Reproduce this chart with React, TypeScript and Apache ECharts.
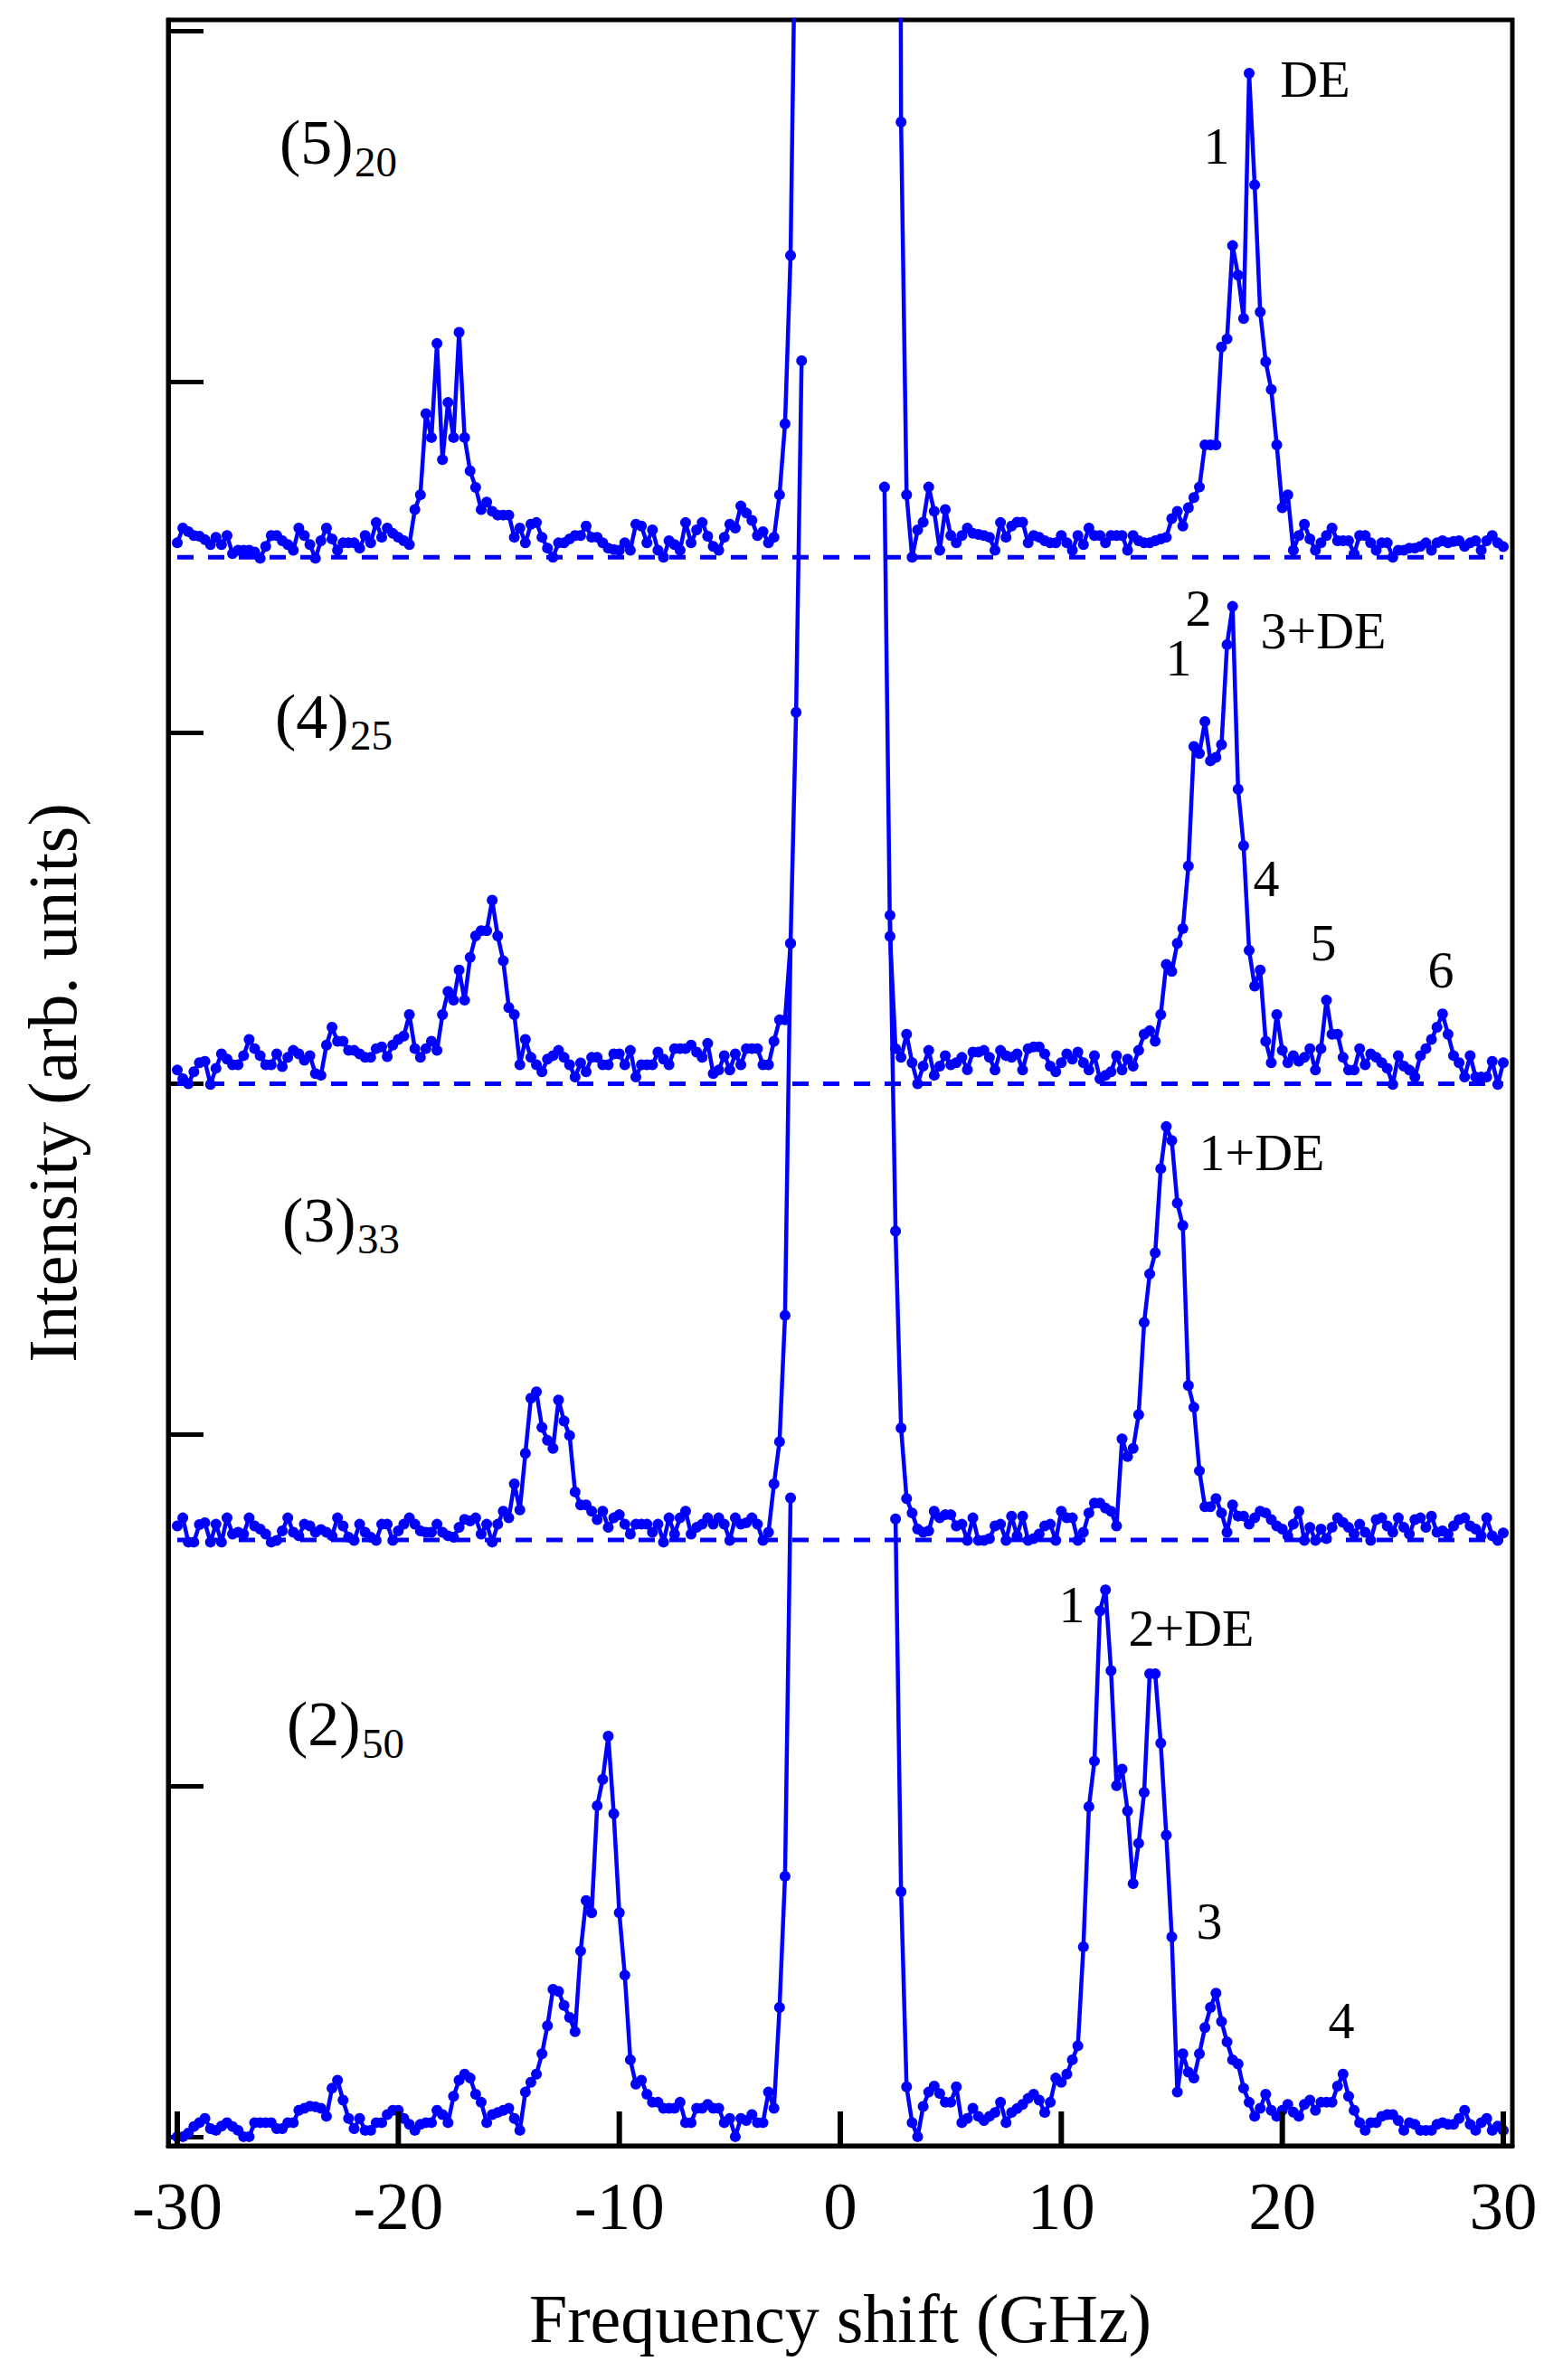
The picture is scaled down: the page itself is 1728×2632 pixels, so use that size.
import React, { useEffect, useRef } from 'react';
import * as echarts from 'echarts';

// Frequency grid of the spectra (GHz): first channel and channel step
const X_START = -30;
const X_STEP = 0.25;
const N = null;

// Spectrum (5)20 — offset baseline 4.5
const trace5 = [
  4.541, 4.583, 4.573, 4.562, 4.56, 4.55, 4.536, 4.557, 4.536, 4.562,
  4.51, 4.52, 4.52, 4.52, 4.515, 4.497, 4.531, 4.562, 4.562, 4.547,
  4.536, 4.52, 4.583, 4.562, 4.536, 4.497, 4.547, 4.583, 4.552, 4.52,
  4.541, 4.541, 4.541, 4.526, 4.562, 4.541, 4.599, 4.557, 4.583, 4.568,
  4.557, 4.547, 4.536, 4.636, 4.678, 4.909, 4.841, 5.109, 4.778, 4.941,
  4.841, 5.141, 4.841, 4.746, 4.699, 4.636, 4.657, 4.631, 4.62, 4.62,
  4.62, 4.557, 4.583, 4.541, 4.594, 4.599, 4.557, 4.526, 4.5, 4.541,
  4.541, 4.552, 4.562, 4.562, 4.589, 4.557, 4.557, 4.541, 4.526, 4.522,
  4.52, 4.541, 4.52, 4.594, 4.589, 4.541, 4.578, 4.52, 4.5, 4.547,
  4.536, 4.52, 4.599, 4.541, 4.578, 4.599, 4.56, 4.531, 4.52, 4.557,
  4.594, 4.583, 4.646, 4.626, 4.605, 4.562, 4.573, 4.541, 4.557, 4.678,
  4.88, 5.36, 6.5,
  N, N, N, N, N, N, N,
  N, N, N, N, N, N, N, N, N, N,
  12, 5.74, 4.678, 4.5, 4.578, 4.6, 4.7, 4.631, 4.52, 4.636,
  4.562, 4.541, 4.562, 4.583, 4.568, 4.565, 4.562, 4.557, 4.52, 4.599,
  4.557, 4.589, 4.6, 4.6, 4.541, 4.562, 4.557, 4.547, 4.541, 4.541,
  4.562, 4.541, 4.52, 4.562, 4.536, 4.583, 4.562, 4.562, 4.541, 4.562,
  4.562, 4.562, 4.52, 4.562, 4.547, 4.541, 4.541, 4.547, 4.552, 4.557,
  4.61, 4.631, 4.589, 4.641, 4.67, 4.7, 4.82, 4.82, 4.82, 5.099,
  5.122, 5.388, 5.304, 5.18, 5.879, 5.561, 5.199, 5.057, 4.978, 4.82,
  4.641, 4.678, 4.52, 4.562, 4.594, 4.552, 4.52, 4.541, 4.562, 4.583,
  4.547, 4.547, 4.547, 4.51, 4.562, 4.562, 4.541, 4.52, 4.541, 4.541,
  4.5, 4.52, 4.52, 4.526, 4.526, 4.531, 4.541, 4.52, 4.541, 4.547,
  4.541, 4.545, 4.547, 4.531, 4.541, 4.547, 4.52, 4.547, 4.562, 4.541, 4.53,
];

// Spectrum (4)25 — offset baseline 3.0
const trace4 = [
  3.039, 3.014, 3.0, 3.034, 3.06, 3.064, 2.998, 3.044, 3.085, 3.07,
  3.054, 3.054, 3.08, 3.126, 3.1, 3.08, 3.054, 3.054, 3.085, 3.049,
  3.075, 3.095, 3.085, 3.067, 3.08, 3.029, 3.024, 3.11, 3.161, 3.121,
  3.121, 3.095, 3.095, 3.085, 3.075, 3.075, 3.1, 3.105, 3.077, 3.11,
  3.126, 3.136, 3.197, 3.1, 3.075, 3.1, 3.121, 3.095, 3.197, 3.263,
  3.238, 3.324, 3.238, 3.36, 3.421, 3.436, 3.436, 3.523, 3.421, 3.35,
  3.217, 3.197, 3.054, 3.126, 3.075, 3.054, 3.034, 3.07, 3.08, 3.095,
  3.075, 3.054, 3.019, 3.059, 3.034, 3.075, 3.075, 3.054, 3.054, 3.085,
  3.085, 3.054, 3.095, 3.019, 3.054, 3.054, 3.054, 3.09, 3.07, 3.054,
  3.1, 3.1, 3.1, 3.11, 3.09, 3.075, 3.115, 3.029, 3.039, 3.08,
  3.039, 3.085, 3.054, 3.1, 3.1, 3.1, 3.054, 3.054, 3.121, 3.182,
  3.182, 3.4, 4.058, 5.06,
  N, N, N, N, N, N,
  N, N, N, N, N, N, N, N,
  4.7, 3.42, 3.1, 3.075, 3.141, 3.06, 3.0, 3.05, 3.095, 3.024, 3.05, 3.08,
  3.054, 3.06, 3.075, 3.04, 3.09, 3.09, 3.095, 3.075, 3.039, 3.095,
  3.08, 3.075, 3.085, 3.039, 3.1, 3.105, 3.105, 3.085, 3.05, 3.034,
  3.06, 3.085, 3.07, 3.09, 3.06, 3.039, 3.08, 3.014, 3.024, 3.034,
  3.08, 3.039, 3.07, 3.05, 3.095, 3.141, 3.151, 3.121, 3.197, 3.34,
  3.32, 3.4, 3.442, 3.62, 3.961, 3.941, 4.032, 3.92, 3.93, 3.966,
  4.251, 4.36, 3.839, 3.678, 3.38, 3.278, 3.324, 3.121, 3.06, 3.197,
  3.095, 3.06, 3.08, 3.064, 3.075, 3.1, 3.039, 3.1, 3.238, 3.141,
  3.141, 3.075, 3.039, 3.039, 3.1, 3.054, 3.085, 3.075, 3.06, 3.044,
  2.998, 3.08, 3.05, 3.039, 3.019, 3.08, 3.1, 3.126, 3.161, 3.199,
  3.141, 3.08, 3.06, 3.019, 3.08, 3.019, 3.019, 3.019, 3.064, 2.998, 3.06,
];

// Spectrum (3)33 — offset baseline 1.7
const trace3 = [
  1.74, 1.763, 1.694, 1.694, 1.744, 1.749, 1.694, 1.745, 1.694, 1.763,
  1.717, 1.722, 1.717, 1.763, 1.74, 1.731, 1.717, 1.694, 1.699, 1.726,
  1.763, 1.722, 1.712, 1.745, 1.74, 1.722, 1.73, 1.722, 1.712, 1.763,
  1.74, 1.708, 1.699, 1.745, 1.722, 1.708, 1.699, 1.745, 1.745, 1.699,
  1.726, 1.745, 1.763, 1.745, 1.726, 1.722, 1.722, 1.745, 1.722, 1.712,
  1.708, 1.736, 1.759, 1.754, 1.763, 1.717, 1.745, 1.694, 1.745, 1.782,
  1.763, 1.86, 1.786, 1.947, 2.104, 2.122, 2.021, 1.984, 1.961, 2.099,
  2.039, 1.998, 1.837, 1.8, 1.8, 1.782, 1.758, 1.782, 1.736, 1.763,
  1.772, 1.745, 1.717, 1.745, 1.745, 1.745, 1.722, 1.745, 1.694, 1.763,
  1.717, 1.763, 1.782, 1.717, 1.736, 1.745, 1.763, 1.745, 1.763, 1.745,
  1.699, 1.763, 1.745, 1.749, 1.763, 1.745, 1.699, 1.722, 1.86, 1.98,
  2.34, 3.4,
  N, N, N, N, N, N, N, N,
  N, N, N, N, N, N, N, N, N,
  3.48, 2.58, 2.019, 1.818, 1.777, 1.731, 1.722, 1.726, 1.782, 1.763, 1.772,
  1.772, 1.74, 1.745, 1.699, 1.763, 1.699, 1.699, 1.704, 1.74, 1.745,
  1.699, 1.768, 1.712, 1.768, 1.699, 1.704, 1.717, 1.74, 1.745, 1.699,
  1.782, 1.763, 1.763, 1.699, 1.722, 1.777, 1.805, 1.805, 1.791, 1.782,
  1.74, 1.988, 1.938, 1.961, 2.057, 2.32, 2.458, 2.518, 2.758, 2.878,
  2.838, 2.66, 2.596, 2.14, 2.078, 1.897, 1.795, 1.795, 1.818, 1.777,
  1.722, 1.8, 1.768, 1.768, 1.745, 1.763, 1.782, 1.777, 1.758, 1.74,
  1.731, 1.712, 1.745, 1.782, 1.699, 1.736, 1.699, 1.731, 1.704, 1.736,
  1.763, 1.75, 1.736, 1.717, 1.745, 1.722, 1.699, 1.758, 1.763, 1.74,
  1.722, 1.763, 1.736, 1.717, 1.758, 1.763, 1.736, 1.768, 1.722, 1.726,
  1.717, 1.74, 1.758, 1.763, 1.74, 1.731, 1.712, 1.763, 1.712, 1.699, 1.72,
];

// Spectrum (2)50 — baseline 0
const trace2 = [
  0.0, 0.0, 0.01, 0.029, 0.04, 0.052, 0.023, 0.018, 0.03, 0.04,
  0.029, 0.018, 0.0, 0.0, 0.04, 0.04, 0.04, 0.04, 0.023, 0.023,
  0.04, 0.04, 0.075, 0.081, 0.087, 0.085, 0.081, 0.058, 0.138, 0.161,
  0.104, 0.052, 0.023, 0.052, 0.018, 0.018, 0.04, 0.04, 0.063, 0.075,
  0.075, 0.052, 0.035, 0.018, 0.035, 0.04, 0.04, 0.075, 0.063, 0.04,
  0.115, 0.161, 0.178, 0.167, 0.121, 0.098, 0.04, 0.063, 0.069, 0.075,
  0.081, 0.052, 0.018, 0.127, 0.155, 0.178, 0.236, 0.316, 0.42, 0.414,
  0.374, 0.34, 0.299, 0.529, 0.673, 0.638, 0.943, 1.018, 1.141, 0.92,
  0.638, 0.46, 0.219, 0.15, 0.161, 0.121, 0.098, 0.098, 0.081, 0.081,
  0.081, 0.098, 0.04, 0.04, 0.081, 0.081, 0.092, 0.081, 0.081, 0.04,
  0.052, 0.0, 0.052, 0.046, 0.063, 0.04, 0.04, 0.127, 0.081, 0.368,
  0.742, 1.82,
  N, N, N, N, N, N, N, N,
  N, N, N, N, N, N, N, N, N, N,
  1.76, 0.698, 0.142, 0.04, 0.0, 0.086, 0.127, 0.144, 0.123, 0.098,
  0.098, 0.142, 0.04, 0.052, 0.081, 0.058, 0.046, 0.058, 0.069, 0.098,
  0.04, 0.069, 0.08, 0.092, 0.109, 0.121, 0.104, 0.069, 0.098, 0.167,
  0.155, 0.178, 0.219, 0.259, 0.541, 0.94, 1.07, 1.498, 1.558, 1.328,
  1.0, 1.047, 0.928, 0.721, 0.836, 0.981, 1.319, 1.319, 1.121, 0.859,
  0.569, 0.127, 0.236, 0.184, 0.167, 0.236, 0.311, 0.368, 0.409, 0.328,
  0.27, 0.219, 0.207, 0.138, 0.098, 0.058, 0.081, 0.121, 0.075, 0.058,
  0.075, 0.092, 0.07, 0.058, 0.092, 0.104, 0.075, 0.098, 0.098, 0.098,
  0.144, 0.178, 0.115, 0.075, 0.04, 0.018, 0.04, 0.04, 0.058, 0.063,
  0.063, 0.046, 0.018, 0.04, 0.035, 0.018, 0.018, 0.018, 0.035, 0.04,
  0.035, 0.035, 0.052, 0.075, 0.035, 0.018, 0.04, 0.052, 0.018, 0.03, 0.018,
];

// Dashed zero lines of the offset spectra
const baselines = [4.5, 3.0, 1.7];
const dashRange = [-30, 30];

// Axis ranges and ticks
const xRange = [-30.41, 30.41];
const yRange = [-0.026, 6.031];
const xTicks = [-30, -20, -10, 0, 10, 20, 30];
const yTicks = [0, 1, 2, 3, 4, 5, 6];

// Spectrum names: main text + subscript
const traceNames = [
  { main: '(5)', sub: '20' },
  { main: '(4)', sub: '25' },
  { main: '(3)', sub: '33' },
  { main: '(2)', sub: '50' },
];

// Mode annotations
const peakTexts = ['DE', '1', '2', '1', '3+DE', '4', '5', '6', '1+DE', '1', '2+DE', '3', '4'];

export default function App() {
  const ref = useRef<HTMLDivElement>(null);

  useEffect(() => {
    if (!ref.current) return;
    const chart = echarts.init(ref.current, null, { renderer: 'svg' });
    const BLUE = '#0000ff';
    const FONT = 'Liberation Serif';

    const GRID = { left: 186, right: 56, top: 22, bottom: 259 };
    const plotH = 2632 - GRID.top - GRID.bottom;
    const X_TICK_LEN = 38; // px
    const tickLenData = (X_TICK_LEN / plotH) * (yRange[1] - yRange[0]);

    const toPairs = (arr: (number | null)[]) =>
      arr.map((v, i) => [X_START + i * X_STEP, v == null ? '-' : v]);

    const dashSeries = baselines.map((b) => ({
      type: 'line',
      data: [[dashRange[0], b], [dashRange[1], b]],
      symbol: 'none',
      silent: true,
      z: 2,
      lineStyle: { color: BLUE, width: 5, type: [18, 16] },
    }));

    const traceSeries = [trace5, trace4, trace3, trace2].map((arr) => ({
      type: 'line',
      data: toPairs(arr),
      symbol: 'circle',
      symbolSize: 12,
      showAllSymbol: true,
      connectNulls: false,
      clip: true,
      silent: true,
      z: 3,
      lineStyle: { color: BLUE, width: 4.5 },
      itemStyle: { color: BLUE },
    }));

    // x-axis major ticks (inside), one small line series per tick
    const tickSeries = xTicks.map((v) => ({
      type: 'line',
      data: [[v, yRange[0]], [v, yRange[0] + tickLenData]],
      symbol: 'none',
      clip: false,
      silent: true,
      z: 8,
      lineStyle: { color: '#000', width: 6 },
    }));

    // label layout (pixel positions: left/center x, text baseline y)
    const nameLayout = [
      { x: 309, y: 181, sx: 392, sy: 195 },
      { x: 304, y: 816, sx: 387, sy: 829 },
      { x: 312, y: 1373, sx: 395, sy: 1386 },
      { x: 317, y: 1930, sx: 400, sy: 1944 },
    ];
    const peakLayout = [
      [1454, 107], [1345, 181],
      [1325, 692], [1303, 747], [1463, 717], [1400, 991], [1463, 1062], [1593, 1092],
      [1395, 1294],
      [1185, 1794], [1317, 1820], [1337, 2144], [1483, 2254],
    ];
    const MAIN = 70;
    const SUB = 47;
    const PEAK = 58;
    const C = 0.3375;

    const txt = (text: string, x: number, baseline: number, size: number, align: string) => ({
      type: 'text',
      x,
      y: baseline - C * size,
      silent: true,
      z: 10,
      style: {
        text,
        fill: '#000',
        fontSize: size,
        fontFamily: FONT,
        font: `${size}px "${FONT}"`,
        align,
        textAlign: align,
        verticalAlign: 'middle',
        textVerticalAlign: 'middle',
      },
    });

    const graphics: any[] = [];
    traceNames.forEach((t, i) => {
      const l = nameLayout[i];
      graphics.push(txt(t.main, l.x, l.y, MAIN, 'left'));
      graphics.push(txt(t.sub, l.sx, l.sy, SUB, 'left'));
    });
    peakTexts.forEach((t, i) => {
      graphics.push(txt(t, peakLayout[i][0], peakLayout[i][1], PEAK, 'center'));
    });

    const axisLine = { show: true, onZero: false, lineStyle: { color: '#000', width: 5 } };

    chart.setOption({
      animation: false,
      backgroundColor: '#fff',
      grid: {
        ...GRID,
        show: true,
        borderColor: '#000',
        borderWidth: 5,
        backgroundColor: 'transparent',
      },
      xAxis: {
        type: 'value',
        position: 'bottom',
        min: xRange[0],
        max: xRange[1],
        axisLine,
        splitLine: { show: false },
        axisTick: { show: false },
        axisLabel: {
          customValues: xTicks,
          margin: 29,
          color: '#000',
          fontSize: 75,
          fontFamily: FONT,
          formatter: (v: number) => String(v),
        },
        name: 'Frequency shift (GHz)',
        nameLocation: 'middle',
        nameGap: 153,
        nameTextStyle: { color: '#000', fontSize: 76, fontFamily: FONT },
      },
      yAxis: {
        type: 'value',
        position: 'left',
        min: yRange[0],
        max: yRange[1],
        axisLine,
        splitLine: { show: false },
        axisTick: {
          show: true,
          inside: true,
          length: 39,
          customValues: yTicks,
          lineStyle: { color: '#000', width: 5 },
        },
        axisLabel: { show: false },
        name: 'Intensity (arb. units)',
        nameLocation: 'middle',
        nameGap: 90,
        nameTextStyle: { color: '#000', fontSize: 76, fontFamily: FONT },
      },
      series: [...dashSeries, ...traceSeries, ...tickSeries],
      graphic: graphics,
    });

    return () => chart.dispose();
  }, []);

  return (
    <div
      ref={ref}
      style={{ position: 'absolute', left: 0, top: 0, width: 1728, height: 2632, background: '#fff' }}
    />
  );
}
